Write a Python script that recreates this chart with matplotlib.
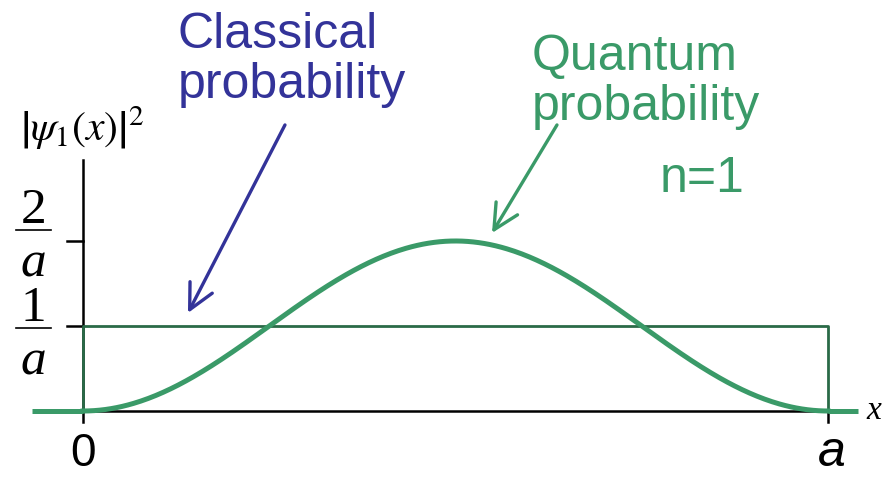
import numpy as np
import matplotlib
matplotlib.use("Agg")
import matplotlib.pyplot as plt

plt.rcParams["font.family"] = ["Liberation Sans", "DejaVu Sans"]
plt.rcParams["mathtext.fontset"] = "stix"

# well width and probability levels (in units of 1/a)
a = 1.0
classical_level = 1.0   # 1/a
quantum_peak = 2.0      # 2/a
ytick_values = [1.0, 2.0]
ytick_numerators = ["1", "2"]

# ground state density |psi_1(x)|^2 = (2/a) sin^2(pi x / a)
x = np.linspace(0, a, 400)
psi1_sq = quantum_peak * np.sin(np.pi * x / a) ** 2

blue = "#333399"
green = "#3a9a68"
dark_green = "#2a6a47"

fig = plt.figure(figsize=(8.83, 4.79), dpi=100)
ax = fig.add_axes([0, 0, 1, 1])
ax.set_xlim(-0.1114, 1.0738)
ax.set_ylim(-0.8, 4.835)
ax.axis("off")

# axes
ax.plot([0, 0], [-0.13, 2.95], color="black", lw=1.8, zorder=2)
ax.plot([0, a], [0, 0], color="black", lw=1.8, zorder=2)
ax.plot([a, a], [-0.13, 0], color="black", lw=1.8, zorder=2)
for yv in ytick_values:
    ax.plot([-0.021, 0], [yv, yv], color="black", lw=1.8, zorder=2)

# classical box
ax.plot([0, 0, a, a], [0, classical_level, classical_level, 0],
        color=dark_green, lw=2.0, zorder=3)

# quantum curve plus baseline stubs
ax.plot([-0.068, 0], [0, 0], color=green, lw=3.6, zorder=4, solid_capstyle="butt")
ax.plot([a, 1.040], [0, 0], color=green, lw=3.6, zorder=4, solid_capstyle="butt")
ax.plot(x, psi1_sq, color=green, lw=3.6, zorder=4)

# y tick fractions
for yv, num, bar in zip(ytick_values, ytick_numerators, [0.976, 2.13]):
    ax.plot([-0.0895, -0.0425], [bar, bar], color="black", lw=1.2)
    ax.text(-0.066, bar + 0.08, num, ha="center", va="baseline",
            fontsize=37, family="Liberation Serif")
    ax.text(-0.066, bar - 0.55, "a", ha="center", va="baseline",
            fontsize=37, family="Liberation Serif", style="italic")

ax.text(-0.0015, 3.33, r"$\left|\psi_1(x)\right|^2$", ha="center", va="center",
        fontsize=30)

# x labels
ax.text(0, -0.65, "0", ha="center", va="baseline", fontsize=33)
ax.text(1.005, -0.65, "a", ha="center", va="baseline", fontsize=36, style="italic")
ax.text(1.052, 0.0, "x", ha="left", va="center", fontsize=24,
        family="Liberation Serif", style="italic")

# annotations
ax.text(0.1275, 4.27, "Classical", color=blue, fontsize=36, va="baseline")
ax.text(0.1275, 3.68, "probability", color=blue, fontsize=36, va="baseline")
ax.text(0.6027, 4.01, "Quantum", color=green, fontsize=36, va="baseline")
ax.text(0.6027, 3.42, "probability", color=green, fontsize=36, va="baseline")
ax.text(0.7745, 2.576, "n=1", color=green, fontsize=36, va="baseline")

arrow_style = "->,head_length=0.9,head_width=0.45"
ax.annotate("", xy=(0.1409, 1.153), xytext=(0.2711, 3.365),
            arrowprops=dict(arrowstyle=arrow_style, color=blue, lw=2.4,
                            mutation_scale=20, shrinkA=0, shrinkB=0))
ax.annotate("", xy=(0.549, 2.094), xytext=(0.6362, 3.365),
            arrowprops=dict(arrowstyle=arrow_style, color=green, lw=2.4,
                            mutation_scale=20, shrinkA=0, shrinkB=0))

fig.savefig("out.png", dpi=100)
